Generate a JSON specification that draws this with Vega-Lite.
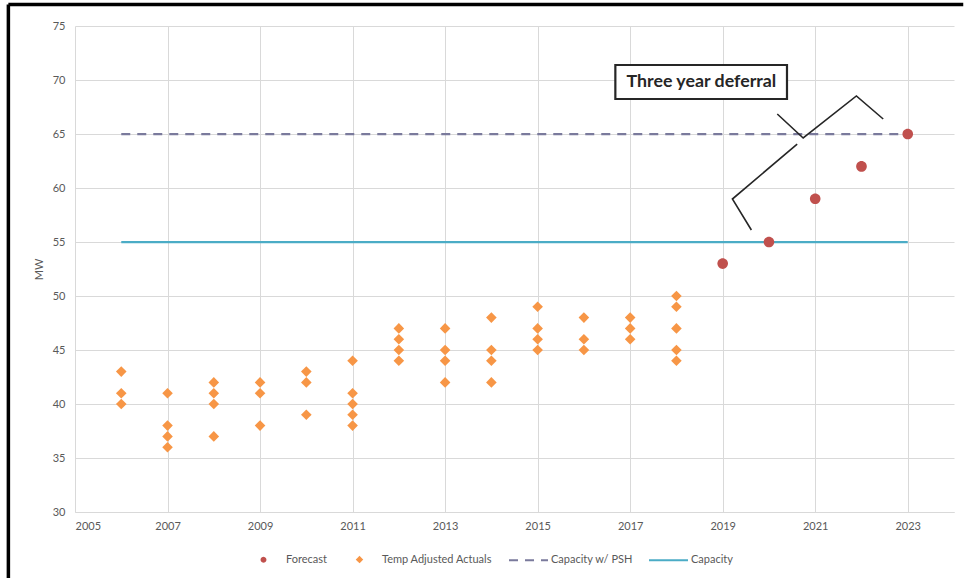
{
  "$schema": "https://vega.github.io/schema/vega-lite/v6.json",
  "width": 879,
  "height": 486,
  "autosize": {"type": "none"},
  "padding": {"left": 75, "top": 26, "right": 11, "bottom": 66},
  "background": "white",
  "config": {
    "view": {"stroke": null},
    "font": "Lato",
    "legend": {
      "orient": "none",
      "legendX": 168,
      "legendY": 513,
      "direction": "horizontal",
      "columns": 4,
      "title": null,
      "symbolSize": 1521,
      "labelFontSize": 11,
      "labelColor": "#595959",
      "labelFont": "Lato",
      "columnPadding": 12,
      "labelOffset": 2
    }
  },
  "datasets": {
    "actuals": [
      {"year": 2006, "mw": 43, "series": "Temp Adjusted Actuals"},
      {"year": 2006, "mw": 41, "series": "Temp Adjusted Actuals"},
      {"year": 2006, "mw": 40, "series": "Temp Adjusted Actuals"},
      {"year": 2007, "mw": 41, "series": "Temp Adjusted Actuals"},
      {"year": 2007, "mw": 38, "series": "Temp Adjusted Actuals"},
      {"year": 2007, "mw": 37, "series": "Temp Adjusted Actuals"},
      {"year": 2007, "mw": 36, "series": "Temp Adjusted Actuals"},
      {"year": 2008, "mw": 42, "series": "Temp Adjusted Actuals"},
      {"year": 2008, "mw": 41, "series": "Temp Adjusted Actuals"},
      {"year": 2008, "mw": 40, "series": "Temp Adjusted Actuals"},
      {"year": 2008, "mw": 37, "series": "Temp Adjusted Actuals"},
      {"year": 2009, "mw": 42, "series": "Temp Adjusted Actuals"},
      {"year": 2009, "mw": 41, "series": "Temp Adjusted Actuals"},
      {"year": 2009, "mw": 38, "series": "Temp Adjusted Actuals"},
      {"year": 2010, "mw": 43, "series": "Temp Adjusted Actuals"},
      {"year": 2010, "mw": 42, "series": "Temp Adjusted Actuals"},
      {"year": 2010, "mw": 39, "series": "Temp Adjusted Actuals"},
      {"year": 2011, "mw": 44, "series": "Temp Adjusted Actuals"},
      {"year": 2011, "mw": 41, "series": "Temp Adjusted Actuals"},
      {"year": 2011, "mw": 40, "series": "Temp Adjusted Actuals"},
      {"year": 2011, "mw": 39, "series": "Temp Adjusted Actuals"},
      {"year": 2011, "mw": 38, "series": "Temp Adjusted Actuals"},
      {"year": 2012, "mw": 47, "series": "Temp Adjusted Actuals"},
      {"year": 2012, "mw": 46, "series": "Temp Adjusted Actuals"},
      {"year": 2012, "mw": 45, "series": "Temp Adjusted Actuals"},
      {"year": 2012, "mw": 44, "series": "Temp Adjusted Actuals"},
      {"year": 2013, "mw": 47, "series": "Temp Adjusted Actuals"},
      {"year": 2013, "mw": 45, "series": "Temp Adjusted Actuals"},
      {"year": 2013, "mw": 44, "series": "Temp Adjusted Actuals"},
      {"year": 2013, "mw": 42, "series": "Temp Adjusted Actuals"},
      {"year": 2014, "mw": 48, "series": "Temp Adjusted Actuals"},
      {"year": 2014, "mw": 45, "series": "Temp Adjusted Actuals"},
      {"year": 2014, "mw": 44, "series": "Temp Adjusted Actuals"},
      {"year": 2014, "mw": 42, "series": "Temp Adjusted Actuals"},
      {"year": 2015, "mw": 49, "series": "Temp Adjusted Actuals"},
      {"year": 2015, "mw": 47, "series": "Temp Adjusted Actuals"},
      {"year": 2015, "mw": 46, "series": "Temp Adjusted Actuals"},
      {"year": 2015, "mw": 45, "series": "Temp Adjusted Actuals"},
      {"year": 2016, "mw": 48, "series": "Temp Adjusted Actuals"},
      {"year": 2016, "mw": 46, "series": "Temp Adjusted Actuals"},
      {"year": 2016, "mw": 45, "series": "Temp Adjusted Actuals"},
      {"year": 2017, "mw": 48, "series": "Temp Adjusted Actuals"},
      {"year": 2017, "mw": 47, "series": "Temp Adjusted Actuals"},
      {"year": 2017, "mw": 46, "series": "Temp Adjusted Actuals"},
      {"year": 2018, "mw": 50, "series": "Temp Adjusted Actuals"},
      {"year": 2018, "mw": 49, "series": "Temp Adjusted Actuals"},
      {"year": 2018, "mw": 47, "series": "Temp Adjusted Actuals"},
      {"year": 2018, "mw": 45, "series": "Temp Adjusted Actuals"},
      {"year": 2018, "mw": 44, "series": "Temp Adjusted Actuals"}
    ],
    "forecast": [
      {"year": 2019, "mw": 53, "series": "Forecast"},
      {"year": 2020, "mw": 55, "series": "Forecast"},
      {"year": 2021, "mw": 59, "series": "Forecast"},
      {"year": 2022, "mw": 62, "series": "Forecast"},
      {"year": 2023, "mw": 65, "series": "Forecast"}
    ],
    "capacity": [
      {"series": "Capacity w/ PSH", "start": 2006, "end": 2023, "mw": 65},
      {"series": "Capacity", "start": 2006, "end": 2023, "mw": 55}
    ],
    "brace": [
      {"stroke": "A", "i": 1, "year": 2019.62, "mw": 56.11},
      {"stroke": "A", "i": 2, "year": 2019.21, "mw": 58.98},
      {"stroke": "A", "i": 3, "year": 2020.61, "mw": 64.07},
      {"stroke": "B", "i": 1, "year": 2020.18, "mw": 66.85},
      {"stroke": "B", "i": 2, "year": 2020.74, "mw": 64.63},
      {"stroke": "B", "i": 3, "year": 2021.89, "mw": 68.52},
      {"stroke": "B", "i": 4, "year": 2022.47, "mw": 66.39}
    ],
    "box": [
      {"x1": 2016.68, "x2": 2020.39, "y1": 71.39, "y2": 68.24, "tx": 2018.54, "ty": 69.8, "label": "Three year deferral"}
    ],
    "frame": [
      {"x1": 2003.56, "x2": 2024.2, "y1": 76.99, "y2": 76.99},
      {"x1": 2003.56, "x2": 2003.56, "y1": 76.99, "y2": 23.5}
    ]
  },
  "encoding": {
    "x": {
      "type": "quantitative",
      "scale": {"domain": [2005, 2024], "nice": false, "zero": false}
    },
    "y": {
      "type": "quantitative",
      "scale": {"domain": [30, 75], "nice": false, "zero": false}
    }
  },
  "layer": [
    {
      "data": {"name": "capacity"},
      "mark": {"type": "rule", "strokeWidth": 2.25},
      "encoding": {
        "x": {
          "field": "start",
          "type": "quantitative",
          "axis": {
            "values": [2005, 2007, 2009, 2011, 2013, 2015, 2017, 2019, 2021, 2023],
            "format": "d",
            "title": null,
            "grid": true,
            "gridColor": "#d9d9d9",
            "domainColor": "#d9d9d9",
            "ticks": false,
            "labelColor": "#595959",
            "labelFontSize": 11,
            "labelPadding": 8
          }
        },
        "x2": {"field": "end"},
        "y": {
          "field": "mw",
          "type": "quantitative",
          "axis": {
            "values": [30, 35, 40, 45, 50, 55, 60, 65, 70, 75],
            "title": "MW",
            "titleFontWeight": "normal",
            "titleFontSize": 11,
            "titleColor": "#595959",
            "titlePadding": 8,
            "grid": true,
            "gridColor": "#d9d9d9",
            "domain": false,
            "ticks": false,
            "labelColor": "#595959",
            "labelFontSize": 11,
            "labelPadding": 10
          }
        },
        "color": {
          "field": "series",
          "type": "nominal",
          "scale": {
            "domain": ["Forecast", "Temp Adjusted Actuals", "Capacity w/ PSH", "Capacity"],
            "range": ["#c0504d", "#f79646", "#7a7a9c", "#4bacc6"]
          },
          "legend": {
            "encode": {
              "symbols": {
                "update": {
                  "fill": {"scale": "color", "field": "value"},
                  "stroke": {"scale": "color", "field": "value"},
                  "strokeWidth": {"value": 2}
                }
              }
            }
          }
        },
        "strokeDash": {
          "field": "series",
          "type": "nominal",
          "scale": {
            "domain": ["Forecast", "Temp Adjusted Actuals", "Capacity w/ PSH", "Capacity"],
            "range": [[1, 0], [1, 0], [9, 7], [1, 0]]
          }
        }
      }
    },
    {
      "data": {"name": "actuals"},
      "mark": {"type": "point", "filled": true, "opacity": 1, "size": 7800},
      "encoding": {
        "x": {"field": "year", "type": "quantitative"},
        "y": {"field": "mw", "type": "quantitative"},
        "color": {
          "field": "series",
          "type": "nominal",
          "scale": {
            "domain": ["Forecast", "Temp Adjusted Actuals", "Capacity w/ PSH", "Capacity"],
            "range": ["#c0504d", "#f79646", "#7a7a9c", "#4bacc6"]
          }
        },
        "shape": {
          "field": "series",
          "type": "nominal",
          "scale": {
            "domain": ["Forecast", "Temp Adjusted Actuals", "Capacity w/ PSH", "Capacity"],
            "range": [
              "M-0.1,0A0.1,0.1,0,1,0,0.1,0A0.1,0.1,0,1,0,-0.1,0Z",
              "M-0.12,0L0,-0.12L0.12,0L0,0.12Z",
              "M-1,0H1",
              "M-1,0H1"
            ]
          }
        }
      }
    },
    {
      "data": {"name": "forecast"},
      "mark": {"type": "point", "filled": true, "opacity": 1, "size": 11236},
      "encoding": {
        "x": {"field": "year", "type": "quantitative"},
        "y": {"field": "mw", "type": "quantitative"},
        "color": {
          "field": "series",
          "type": "nominal",
          "scale": {
            "domain": ["Forecast", "Temp Adjusted Actuals", "Capacity w/ PSH", "Capacity"],
            "range": ["#c0504d", "#f79646", "#7a7a9c", "#4bacc6"]
          }
        },
        "shape": {
          "field": "series",
          "type": "nominal",
          "scale": {
            "domain": ["Forecast", "Temp Adjusted Actuals", "Capacity w/ PSH", "Capacity"],
            "range": [
              "M-0.1,0A0.1,0.1,0,1,0,0.1,0A0.1,0.1,0,1,0,-0.1,0Z",
              "M-0.12,0L0,-0.12L0.12,0L0,0.12Z",
              "M-1,0H1",
              "M-1,0H1"
            ]
          }
        }
      }
    },
    {
      "data": {"name": "brace"},
      "mark": {"type": "line", "color": "#262626", "strokeWidth": 1.6},
      "encoding": {
        "x": {"field": "year", "type": "quantitative"},
        "y": {"field": "mw", "type": "quantitative"},
        "detail": {"field": "stroke", "type": "nominal"},
        "order": {"field": "i", "type": "quantitative"}
      }
    },
    {
      "data": {"name": "box"},
      "mark": {"type": "rect", "fill": "white", "stroke": "#262626", "strokeWidth": 2.2},
      "encoding": {
        "x": {"field": "x1", "type": "quantitative"},
        "x2": {"field": "x2"},
        "y": {"field": "y1", "type": "quantitative"},
        "y2": {"field": "y2"}
      }
    },
    {
      "data": {"name": "box"},
      "mark": {"type": "text", "fontWeight": "bold", "fontSize": 17.8, "color": "#262626", "font": "Lato"},
      "encoding": {
        "x": {"field": "tx", "type": "quantitative"},
        "y": {"field": "ty", "type": "quantitative"},
        "text": {"field": "label"}
      }
    },
    {
      "data": {"name": "frame"},
      "mark": {"type": "rule", "color": "black", "strokeWidth": 3.5},
      "encoding": {
        "x": {"field": "x1", "type": "quantitative"},
        "x2": {"field": "x2"},
        "y": {"field": "y1", "type": "quantitative"},
        "y2": {"field": "y2"}
      }
    }
  ]
}
